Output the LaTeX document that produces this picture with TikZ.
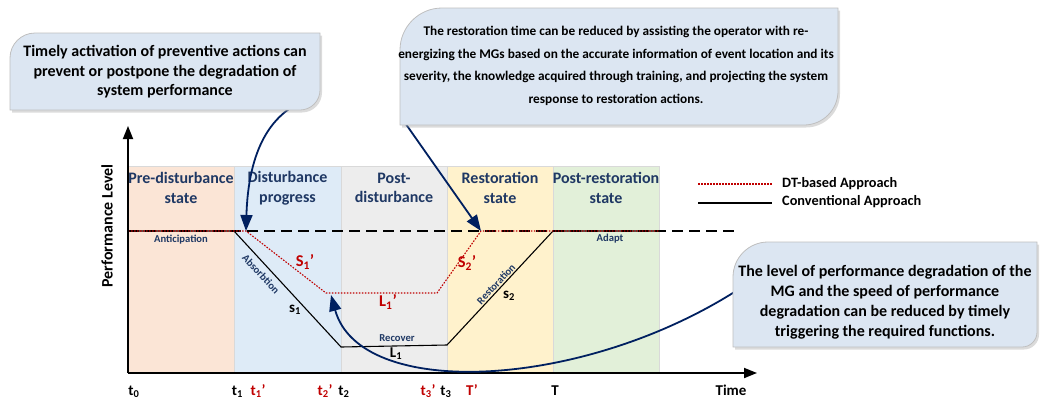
\documentclass[tikz,border=0pt]{standalone}
\usepackage{fontspec}
\setmainfont{Carlito}
\usetikzlibrary{arrows.meta}
\definecolor{navy}{HTML}{1F3864}
\definecolor{arrnavy}{HTML}{002060}
\definecolor{dtred}{HTML}{C00000}
\definecolor{calfill}{HTML}{DCE6F2}
\definecolor{bpre}{HTML}{FBE5D6}
\definecolor{bdis}{HTML}{DEEBF7}
\definecolor{bpost}{HTML}{EDEDED}
\definecolor{bres}{HTML}{FFF2CC}
\definecolor{bpr}{HTML}{E2F0D9}
\newcommand\fs[2]{\fontsize{#1}{#2}\selectfont}
% callout body: x1,y1,x2,y2,radius top-left,radius bottom-right
\newcommand\callshape[6]{%
  \fill[black!40,opacity=.35,xshift=2pt,yshift=-2.5pt] (#1,#4) -- (#1,{#2+#5}) .. controls (#1,{#2+0.448*#5}) and ({#1+0.448*#5},#2) .. ({#1+#5},#2) -- (#3,#2) -- (#3,{#4-#6}) .. controls (#3,{#4-0.448*#6}) and ({#3-0.448*#6},#4) .. ({#3-#6},#4) -- cycle;
  \filldraw[fill=calfill,draw=gray!50,line width=.8pt] (#1,#4) -- (#1,{#2+#5}) .. controls (#1,{#2+0.448*#5}) and ({#1+0.448*#5},#2) .. ({#1+#5},#2) -- (#3,#2) -- (#3,{#4-#6}) .. controls (#3,{#4-0.448*#6}) and ({#3-0.448*#6},#4) .. ({#3-#6},#4) -- cycle;}
\begin{document}
\begin{tikzpicture}[x=1pt,y=-1pt,
  band/.style={draw=gray!30,line width=.6pt},
  bandtitle/.style={text=navy,font=\bfseries\fs{16}{19.5},align=center,inner sep=0pt},
  small/.style={text=navy,font=\bfseries\fs{10.6}{12},inner sep=0pt},
  tick/.style={font=\bfseries\fs{15}{17},inner sep=0pt,anchor=base},
  redtick/.style={tick,text=dtred},
  bigred/.style={text=dtred,font=\bfseries\fs{16.5}{18},inner sep=0pt},
  bigblack/.style={text=black,font=\bfseries\fs{15}{17},inner sep=0pt},
  conv/.style={black,line width=1.1pt},
  dtline/.style={dtred,line width=1.1pt,dash pattern=on 1.6pt off 1.4pt},
  refline/.style={black,line width=1.5pt,dash pattern=on 11pt off 6pt},
  axis/.style={black,line width=1.8pt,-{Triangle[length=13pt,width=10pt]}},
  callarrow/.style={arrnavy,line width=1.8pt,-{Triangle[length=16pt,width=12pt]}},
  calltext/.style={font=\bfseries,align=center,inner sep=0pt},
  legend/.style={font=\bfseries\fs{14.3}{16},anchor=west,inner sep=0pt},
]
\useasboundingbox (0,0) rectangle (1040,402);
% bands
\filldraw[band,fill=bpre]  (128,166) rectangle (234,373);
\filldraw[band,fill=bdis]  (234,166) rectangle (341,373);
\filldraw[band,fill=bpost] (341,166) rectangle (447,373);
\filldraw[band,fill=bres]  (447,166) rectangle (553,373);
\filldraw[band,fill=bpr]   (553,166) rectangle (659,373);
\node[bandtitle] (tpre)  at (181,188) {Pre-disturbance\\state};
\node[bandtitle] (tdis)  at (287.5,188) {Disturbance\\progress};
\node[bandtitle] (tpost) at (394,188) {Post-\\disturbance};
\node[bandtitle] (tres)  at (500,188) {Restoration\\state};
\node[bandtitle] (tpr)   at (606,188) {Post-restoration\\state};
% curve points
\coordinate (P0) at (128,231);
\coordinate (P1) at (234,231);
\coordinate (P2) at (341,347);
\coordinate (P3) at (447,345);
\coordinate (P4) at (553,231);
\coordinate (P5) at (659,231);
\coordinate (R1) at (246,231);
\coordinate (R2) at (326,293);
\coordinate (R3) at (437,293);
\coordinate (R4) at (481,231);
\coordinate (Dend) at (740,231);
\draw[refline] (P0) -- (Dend);
\draw[conv] (P0) -- (P1) -- (P2) -- (P3) -- (P4) -- (P5);
\draw[dtline] (P0) -- (R1) -- (R2) -- (R3) -- (R4) -- (P5);
% axes
\coordinate (O) at (128,373);
\coordinate (ytop) at (128,126);
\coordinate (xend) at (757,373);
\draw[axis] (O) -- (ytop);
\draw[axis] (O) -- (xend);
\node[rotate=90,font=\bfseries\fs{16}{18},inner sep=0pt] (ylab) at (107,226) {Performance Level};
% small labels
\node[small] (lant) at (181,240) {Anticipation};
\node[small,rotate=-47] (labs) at (261,274) {Absorbtion};
\node[small] (lrec) at (397,338) {Recover};
\node[small,rotate=47] (lrst) at (496,284) {Restoration};
\node[small] (lada) at (610,239) {Adapt};
\node[bigred] (s1p) at (305,262) {S\textsubscript{1}'};
\node[bigred] (l1p) at (388,302) {L\textsubscript{1}'};
\node[bigred] (s2p) at (467,263) {S\textsubscript{2}'};
\node[bigblack] (s1) at (295,310) {s\textsubscript{1}};
\node[bigblack] (l1) at (396,354) {L\textsubscript{1}};
\node[bigblack] (s2) at (509,296) {s\textsubscript{2}};
% ticks
\node[tick] (t0) at (134,395) {t\textsubscript{0}};
\node[tick] (t1) at (237.5,395) {t\textsubscript{1}};
\node[redtick] (t1p) at (258,395) {t\textsubscript{1}'};
\node[redtick] (t2p) at (325,395) {t\textsubscript{2}'};
\node[tick] (t2) at (344,395) {t\textsubscript{2}};
\node[redtick] (t3p) at (428,395) {t\textsubscript{3}'};
\node[tick] (t3) at (446,395) {t\textsubscript{3}};
\node[redtick] (Tp) at (472,395) {T'};
\node[tick] (T) at (555,395) {T};
\node[tick] (time) at (731,395) {Time};
% legend
\node[legend] (lgdt) at (782,184) {DT-based Approach};
\node[legend] (lgcv) at (782,202) {Conventional Approach};
\coordinate (lg1) at (698,184);
\coordinate (lg2) at (698,203);
\draw[dtline] (lg1) -- ([xshift=-10pt,yshift=0pt]lgdt.west);
\draw[conv] (lg2) -- ([xshift=-10pt,yshift=-1pt]lgcv.west);
% callout arrows
\coordinate (a1s) at (312,98);
\coordinate (a2s) at (403,120);
\coordinate (a3s) at (736,291);
\coordinate (a3e) at (331,295);
\draw[callarrow] (a1s) .. controls (265,112) and (248,160) .. (R1);
\draw[callarrow] (a2s) -- (R4);
\draw[callarrow] (a3s) .. controls (580,390) and (360,400) .. (a3e);
% callouts
\callshape{10}{33}{320}{110}{25}{20}
\node[calltext,font=\bfseries\fs{16}{19.5}] (c1) at (165,72) {Timely activation of preventive actions can\\prevent or postpone the degradation of\\system performance};
\callshape{400}{8}{838}{125}{42}{34}
\node[calltext,font=\bfseries\fs{13.3}{22.5}] (c2) at (616,66) {The restoration time can be reduced by assisting the operator with re-\\energizing the MGs based on the accurate information of event location and its\\severity, the knowledge acquired through training, and projecting the system\\response to restoration actions.};
\callshape{733}{242}{1037}{347}{35}{15}
\node[calltext,font=\bfseries\fs{16}{20}] (c3) at (885,302) {The level of performance degradation of the\\MG and the speed of performance\\degradation can be reduced by timely\\triggering the required functions.};
\end{tikzpicture}
\end{document}
